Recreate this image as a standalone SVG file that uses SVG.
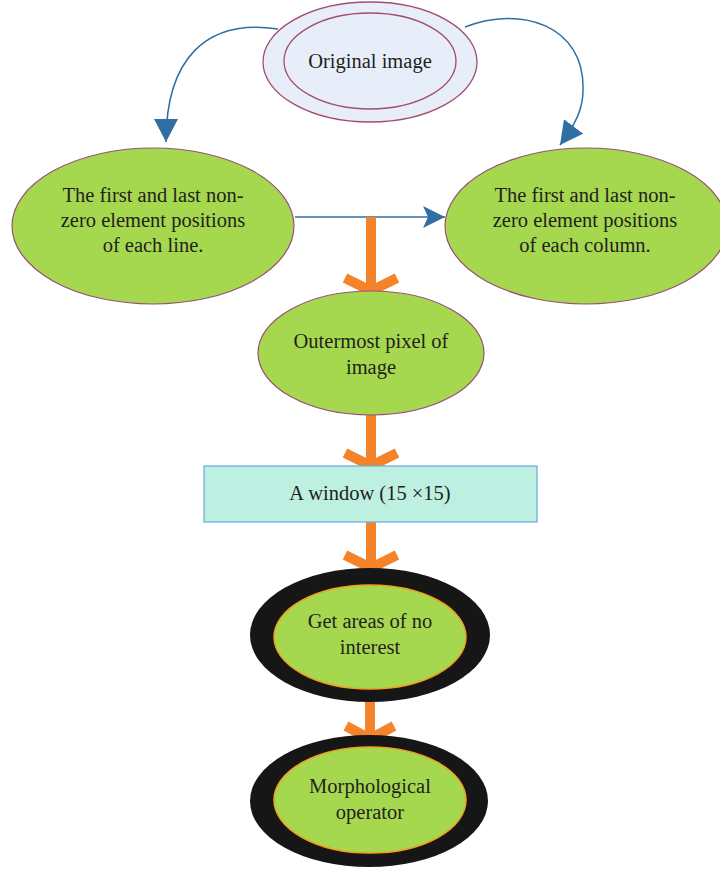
<svg xmlns="http://www.w3.org/2000/svg" width="720" height="870" viewBox="0 0 720 870">
<style>
text{font-family:"Liberation Serif","DejaVu Serif",serif;font-size:20.5px;fill:#231f20;text-anchor:middle}
.green{fill:#a6d84f;stroke:#9a4f78;stroke-width:1.2}
.blue{fill:none;stroke:#2f6fa3;stroke-width:1.5}
.orange{fill:none;stroke:#f5832a;stroke-width:10}
.black{fill:#161616}
.inner{fill:#a6d84f;stroke:#f0a020;stroke-width:1.5}
</style>
<defs>
<marker id="bh" markerWidth="24" markerHeight="24" refX="22" refY="11" orient="auto" markerUnits="userSpaceOnUse">
<path d="M0,0 L22,11 L0,22 L5,11 Z" fill="#2f6fa3"/>
</marker>
<marker id="tri" markerWidth="26" markerHeight="26" refX="23" refY="12" orient="auto" markerUnits="userSpaceOnUse">
<path d="M0,0 L23,12 L0,24 Z" fill="#2f6fa3"/>
</marker>
</defs>
<g id="connectors">
<path class="blue" d="M278,29 C205,18 166,60 166,142" marker-end="url(#tri)"/>
<path class="blue" d="M465,27 C520,5 585,25 583,90 C583,108 577,122 560,145" marker-end="url(#tri)"/>
<path class="blue" d="M295,217 L445,217" marker-end="url(#bh)"/>
<path class="orange" d="M371,217 V288 M345,278 L371,291 L397,278"/>
<path class="orange" d="M371,415 V462 M345,453 L371,466 L397,453"/>
<path class="orange" d="M371,522 V564 M345,555 L371,568 L397,555"/>
<path class="orange" d="M370,702 V736 M346,726 L370,739 L394,726"/>
</g>
<g id="original">
<ellipse cx="370" cy="62" rx="107" ry="60" fill="#e8eef9" stroke="#a24d70" stroke-width="1.3"/>
<ellipse cx="370" cy="61" rx="86" ry="48" fill="#e8eef9" stroke="#a24d70" stroke-width="1.3"/>
<text x="370" y="68">Original image</text>
</g>
<g id="rows">
<ellipse class="green" cx="153" cy="226" rx="141" ry="78"/>
<text x="153" y="202">The first and last non-</text>
<text x="153" y="227">zero element positions</text>
<text x="153" y="252">of each line.</text>
</g>
<g id="cols">
<ellipse class="green" cx="586" cy="226" rx="141" ry="78"/>
<text x="585" y="202">The first and last non-</text>
<text x="585" y="227">zero element positions</text>
<text x="585" y="252">of each column.</text>
</g>
<g id="outermost">
<ellipse class="green" cx="371" cy="353" rx="113" ry="62"/>
<text x="371" y="348">Outermost pixel of</text>
<text x="371" y="374">image</text>
</g>
<g id="window">
<rect x="204" y="466" width="333" height="56" fill="#bdf0e0" stroke="#6fb0e0" stroke-width="1.3"/>
<text x="370" y="500">A window (15 ×15)</text>
</g>
<g id="areas">
<ellipse class="black" cx="370" cy="635" rx="120" ry="67"/>
<ellipse class="inner" cx="370" cy="637" rx="96" ry="52"/>
<text x="370" y="628">Get areas of no</text>
<text x="370" y="654">interest</text>
</g>
<g id="morph">
<ellipse class="black" cx="369" cy="801" rx="119" ry="66"/>
<ellipse class="inner" cx="370" cy="800" rx="96" ry="53"/>
<text x="370" y="793">Morphological</text>
<text x="370" y="819">operator</text>
</g>
</svg>
